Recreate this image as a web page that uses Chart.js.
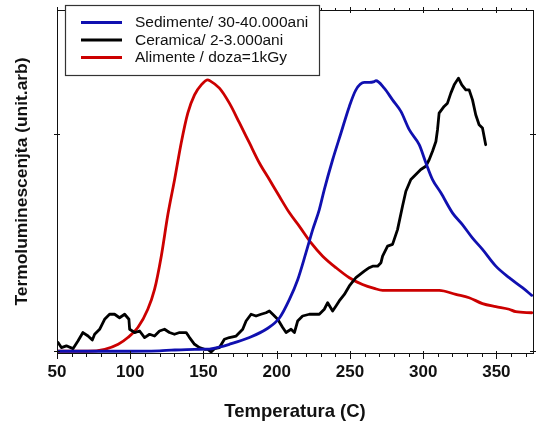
<!DOCTYPE html>
<html><head><meta charset="utf-8">
<script src="https://cdn.jsdelivr.net/npm/chart.js@4/dist/chart.umd.min.js"></script>
<style>html,body{margin:0;padding:0;background:#fff}#wrap{position:relative;width:538px;height:430px}</style>
</head><body><div id="wrap"><canvas id="c" width="538" height="430"></canvas></div>
<script>
// Series labels
const seriesLabels = ['Sedimente/ 30-40.000ani', 'Ceramica/ 2-3.000ani', 'Alimente / doza=1kGy'];
const seriesColors = ['#1010b0', '#000000', '#cc0000'];

// Sedimente (blue)
const sedT = [50,90,120,128,144,154,160,167.7,181.4,192.8,202,208.7,214.4,220,224.6,229.1,232.5,238.2,243.9,249.6,254.1,259.8,263.2,266.6,267.8,273.4,279.1,284.8,290.5,297.3,301.9,306.4,312.1,320,326.8,333.6,340.5,349.6,358.7,367.8,374.1];
const sedY = [0,0,0.2,0.5,0.9,1.0,1.8,3.2,6.3,10.1,15.4,23.8,33,45.3,55.9,65.1,74.3,88,100.3,112.5,120.1,123.5,123.5,123.9,124.3,120.9,115.5,110.2,101.8,94.9,86.5,78.9,72.8,63.6,58.2,52.1,46.8,39.1,33.8,29.2,25.7];

// Ceramica (black)
const cerT = [50.7,53.0,56.4,60.9,64.3,67.7,71.2,74.1,75.7,79.1,82.5,85.9,89.3,92.7,96.2,99.1,99.6,103.0,106.4,109.8,113.2,116.6,120.0,123.4,126.8,130.2,133.7,138.2,140.5,143.9,147.3,150.7,153.0,155.2,157.5,160.9,164.3,167.7,172.3,176.8,179.1,182.5,185.9,189.3,192.7,195.0,197.3,200.7,204.1,206.4,209.8,212.1,214.3,217.7,222.3,225.7,229.1,232.5,234.8,238.2,240.5,242.7,246.2,249.6,254.1,259.8,263.2,265.5,268.9,271.2,272.3,275.7,279.1,282.5,285.9,288.2,291.6,295.0,298.4,301.8,304.1,306.4,308.7,309.8,310.9,314.3,316.6,318.9,321.2,324.1,326.4,329.1,331.4,333.7,335.9,338.2,340.5,342.7];
const cerY = [4.0,1.7,2.5,1.2,4.7,8.6,7.0,5.2,7.8,10.1,14.7,17.0,17.0,15.4,17.0,14.7,10.1,8.6,9.3,6.3,7.8,7.0,9.3,10.1,8.6,7.8,8.6,8.6,6.3,3.2,1.7,0.9,0.9,-0.3,1.2,1.7,5.5,6.3,7.0,10.1,13.9,17.0,16.2,17.0,17.7,18.5,17.0,14.7,10.9,8.6,10.1,8.6,13.9,16.2,17.0,17.0,17.0,19.3,22.3,18.5,20.8,23.1,26.1,30.0,33.8,36.8,38.4,39.1,39.1,40.7,43.7,48.3,49.1,55.9,66.6,73.5,78.9,81.2,83.5,85.0,88.0,91.9,96.4,101.8,109.4,112.5,114.0,118.6,122.4,125.5,122.4,120.1,120.1,115.5,108.7,104.1,102.6,94.9];

// Alimente (red)
const aliT = [50,71,82.6,91.8,98.4,105.2,112,116.6,121.2,125.7,130.3,134.8,139.3,143.9,148.5,153,154.1,160.9,167.7,174.6,181.4,188.2,195,201.8,208.7,215.5,223.5,231.4,240.5,249.6,258.6,266.6,272.3,286,311,322.3,331.4,340.5,349.6,358.7,363.2,374.1];
const aliY = [0,0,0.9,3.2,6.3,10.9,19.3,28.4,43.7,62.8,78.9,95.7,109.4,117.8,122.4,124.7,124.4,120.9,114,104.9,95.7,86.5,78.9,71.2,63.6,57.4,49.8,43.7,38.4,33.8,30.7,28.9,28,28,28,26.1,24.6,21.9,20.5,19.3,18.2,17.7];

// Axis ticks
const xTickLabels = [50,100,150,200,250,300,350];
const yMajorTicks = [0,100];

const pts = (xs, ys) => xs.map((x, i) => ({x, y: ys[i]}));
const FONT = "Arial, 'Liberation Sans', sans-serif";

const framePlugin = {
  id: 'frame',
  afterDatasetsDraw(chart) {
    const ctx = chart.ctx, a = chart.chartArea;
    const xs = chart.scales.x, ys = chart.scales.y;
    ctx.save();
    ctx.strokeStyle = '#111';
    ctx.lineWidth = 1;
    ctx.strokeRect(a.left + 0.5, a.top + 0.5, a.right - a.left, a.bottom - a.top);
    ctx.beginPath();
    xs.ticks.forEach(t => {
      const p = Math.round(xs.getPixelForValue(t.value)) + 0.5;
      const major = xTickLabels.includes(t.value);
      if (major) {
        ctx.moveTo(p, a.bottom - 2); ctx.lineTo(p, a.bottom + 6);
        ctx.moveTo(p, a.top - 3); ctx.lineTo(p, a.top + 3);
      } else {
        ctx.moveTo(p, a.bottom); ctx.lineTo(p, a.bottom + 4);
        ctx.moveTo(p, a.top - 2); ctx.lineTo(p, a.top);
      }
    });
    yMajorTicks.forEach(v => {
      const p = Math.round(ys.getPixelForValue(v)) + 0.5;
      ctx.moveTo(a.left - 3, p); ctx.lineTo(a.left + 3, p);
      ctx.moveTo(a.right - 3, p); ctx.lineTo(a.right + 3, p);
    });
    ctx.stroke();

    // legend box
    const bx = a.left + 8, by = a.top - 5, bw = 254, bh = 70;
    ctx.fillStyle = '#fff';
    ctx.fillRect(bx, by, bw, bh);
    ctx.strokeStyle = '#333';
    ctx.lineWidth = 1.2;
    ctx.strokeRect(bx + 0.5, by + 0.5, bw, bh);
    ctx.font = '15.5px ' + FONT;
    ctx.textBaseline = 'middle';
    ctx.textAlign = 'left';
    chart.data.datasets.forEach((ds, i) => {
      const cy = by + 17.5 + i * 17.5;
      ctx.strokeStyle = ds.borderColor;
      ctx.lineWidth = 3;
      ctx.beginPath();
      ctx.moveTo(bx + 16, cy); ctx.lineTo(bx + 57, cy);
      ctx.stroke();
      ctx.fillStyle = '#111';
      ctx.fillText(ds.label, bx + 70, cy + 0.5);
    });
    ctx.restore();
  }
};

new Chart(document.getElementById('c'), {
  type: 'line',
  data: {
    datasets: [
      {label: seriesLabels[0], data: pts(sedT, sedY), borderColor: seriesColors[0], cubicInterpolationMode: 'monotone'},
      {label: seriesLabels[1], data: pts(cerT, cerY), borderColor: seriesColors[1], tension: 0},
      {label: seriesLabels[2], data: pts(aliT, aliY), borderColor: seriesColors[2], cubicInterpolationMode: 'monotone'}
    ]
  },
  options: {
    responsive: false,
    animation: false,
    devicePixelRatio: 1,
    layout: {padding: {top: 10, right: 5, left: 0, bottom: 0}},
    elements: {
      point: {radius: 0, hoverRadius: 0},
      line: {borderWidth: 2.8, fill: false, borderJoinStyle: 'round', borderCapStyle: 'round'}
    },
    plugins: {legend: {display: false}, tooltip: {enabled: false}},
    scales: {
      x: {
        type: 'linear', min: 50, max: 375,
        afterFit: s => { s.height = 77; },
        grid: {display: false, drawTicks: false},
        border: {display: false},
        ticks: {
          stepSize: 10, includeBounds: false, autoSkip: false, maxRotation: 0, padding: 9,
          color: '#111', font: {family: FONT, size: 17, weight: 'bold'},
          callback: v => xTickLabels.includes(v) ? String(v) : ''
        },
        title: {display: true, text: 'Temperatura (C)', color: '#111',
          font: {family: FONT, size: 18.5, weight: 'bold'}, padding: {top: 0, bottom: 7}}
      },
      y: {
        type: 'linear', min: -0.8, max: 156.8,
        afterFit: s => { s.width = 57; },
        afterBuildTicks: s => { s.ticks = yMajorTicks.map(v => ({value: v})); },
        grid: {display: false, drawTicks: false},
        border: {display: false},
        ticks: {display: false},
        title: {display: true, text: 'Termoluminescenjta (unit.arb)', color: '#111',
          font: {family: FONT, size: 17.4, weight: 'bold'}, padding: {top: 12, bottom: 0}}
      }
    }
  },
  plugins: [framePlugin]
});
</script>
</body></html>
